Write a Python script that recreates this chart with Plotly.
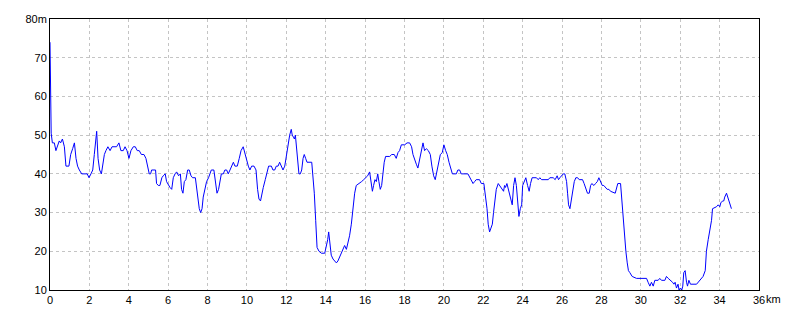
import plotly.graph_objects as go

dist_km = [
    0.00, 0.03, 0.06, 0.12, 0.22, 0.30, 0.37, 0.47, 0.54, 0.63, 0.73, 0.81, 0.96, 1.05, 1.15, 1.24,
    1.32, 1.40, 1.49, 1.61, 1.89, 1.98, 2.08, 2.17, 2.25, 2.32, 2.37, 2.44, 2.52, 2.61, 2.67, 2.76,
    2.84, 2.94, 3.05, 3.15, 3.38, 3.50, 3.60, 3.72, 3.81, 3.91, 4.01, 4.11, 4.23, 4.33, 4.43, 4.53,
    4.64, 4.77, 4.87, 4.96, 5.04, 5.11, 5.16, 5.28, 5.36, 5.41, 5.50, 5.58, 5.68, 5.75, 5.85, 5.92,
    6.01, 6.09, 6.18, 6.26, 6.35, 6.43, 6.53, 6.62, 6.68, 6.75, 6.82, 6.90, 6.99, 7.07, 7.16, 7.24,
    7.38, 7.45, 7.51, 7.58, 7.65, 7.72, 7.78, 7.87, 7.95, 8.05, 8.12, 8.19, 8.32, 8.41, 8.48, 8.56,
    8.63, 8.70, 8.80, 8.88, 8.97, 9.05, 9.14, 9.22, 9.31, 9.39, 9.51, 9.61, 9.70, 9.81, 9.90, 9.98,
    10.07, 10.15, 10.24, 10.36, 10.46, 10.54, 10.61, 10.69, 10.76, 10.83, 10.93, 11.03, 11.10, 11.17,
    11.24, 11.32, 11.41, 11.49, 11.58, 11.66, 11.75, 11.83, 11.92, 12.00, 12.08, 12.17, 12.25, 12.30,
    12.36, 12.41, 12.46, 12.51, 12.58, 12.64, 12.71, 12.78, 12.85, 12.91, 12.98, 13.05, 13.29, 13.35,
    13.42, 13.49, 13.56, 13.66, 13.78, 13.95, 14.03, 14.10, 14.15, 14.22, 14.28, 14.37, 14.45, 14.54,
    14.62, 14.71, 14.79, 14.88, 14.96, 15.05, 15.13, 15.21, 15.30, 15.38, 15.47, 15.55, 15.72, 15.82,
    15.93, 16.03, 16.13, 16.23, 16.30, 16.37, 16.43, 16.50, 16.57, 16.64, 16.70, 16.77, 16.84, 16.91,
    16.97, 17.04, 17.25, 17.35, 17.48, 17.58, 17.67, 17.75, 17.84, 18.01, 18.13, 18.26, 18.36, 18.43,
    18.51, 18.60, 18.68, 18.77, 18.85, 18.94, 19.02, 19.11, 19.21, 19.31, 19.39, 19.48, 19.56, 19.65,
    19.73, 19.82, 19.92, 20.00, 20.09, 20.17, 20.26, 20.34, 20.43, 20.63, 20.71, 20.80, 20.88, 21.22,
    21.31, 21.39, 21.48, 21.56, 21.64, 21.81, 21.90, 22.03, 22.12, 22.19, 22.25, 22.32, 22.39, 22.46,
    22.52, 22.59, 22.66, 22.76, 22.83, 22.90, 22.96, 23.03, 23.08, 23.13, 23.20, 23.27, 23.34, 23.40,
    23.47, 23.54, 23.61, 23.68, 23.74, 23.81, 23.88, 23.95, 24.00, 24.08, 24.16, 24.25, 24.33, 24.40,
    24.48, 24.70, 24.79, 24.87, 24.96, 25.30, 25.38, 25.55, 25.65, 25.75, 25.82, 25.89, 25.97, 26.06,
    26.14, 26.23, 26.28, 26.33, 26.40, 26.46, 26.53, 26.62, 26.70, 26.79, 26.87, 27.04, 27.12, 27.21,
    27.29, 27.38, 27.45, 27.51, 27.62, 27.70, 27.79, 27.87, 27.95, 28.04, 28.12, 28.21, 28.29, 28.38,
    28.46, 28.70, 28.77, 28.83, 28.97, 29.04, 29.10, 29.17, 29.24, 29.31, 29.37, 29.44, 29.56, 29.78,
    30.29, 30.37, 30.46, 30.54, 30.63, 30.71, 30.88, 30.96, 31.05, 31.22, 31.30, 31.39, 31.51, 31.61,
    31.68, 31.74, 31.81, 31.89, 31.94, 32.01, 32.08, 32.13, 32.18, 32.25, 32.32, 32.37, 32.44, 32.52,
    32.83, 32.91, 33.00, 33.08, 33.16, 33.27, 33.33, 33.42, 33.50, 33.59, 33.64, 33.84, 33.93, 34.01,
    34.06, 34.15, 34.21, 34.26, 34.35, 34.43, 34.52, 34.60,
]
elev_m = [
    74, 60, 50.5, 48, 48, 46, 47, 48.5, 48, 49, 47, 42, 42, 45, 46.5, 48,
    44, 42, 41, 40, 40, 39, 40, 41, 45, 50, 51, 44, 41, 40, 42, 45,
    46, 47, 46, 47, 47, 48, 46, 46, 47, 46, 44, 46, 47, 47, 46, 46,
    45, 45, 44, 42, 40, 40, 41, 41, 41, 37.5, 37, 37, 39, 39.5, 40, 38,
    37, 36.5, 36, 39, 40, 40.5, 39.5, 40, 36, 35, 38, 38.5, 41, 41, 39.5, 39,
    39, 36, 33, 31, 30, 31, 34, 36, 38, 39, 40, 41, 41, 38, 35, 36,
    38, 40, 40, 41, 41, 40, 41, 42, 43, 42, 42, 44, 46, 47, 45, 44,
    42, 41, 42, 42, 41, 36, 33.5, 33, 35, 36.5, 38.5, 40.5, 42, 42,
    42, 41, 41, 42, 42, 43, 42, 41, 42, 45, 48, 50, 51.5, 50,
    49.5, 49, 50, 47, 44, 40, 40, 41, 44, 45, 44, 43, 43, 40,
    35, 28, 21, 20, 19.5, 19.5, 21, 23, 25, 22, 19, 18, 17.5, 17,
    17.5, 18.5, 19.5, 20.5, 21.5, 20.5, 22, 24, 27, 31, 35, 37, 37.5, 38,
    38.5, 39, 39.5, 40.5, 38, 35.5, 37, 38.5, 38, 40, 38, 36, 37, 41,
    43, 44.5, 44.5, 45, 45, 44, 45.5, 46, 47.5, 47.5, 48, 48, 47, 45,
    43.5, 42.5, 41.5, 44, 46, 48, 46, 46.5, 46, 45, 42, 39.5, 38.5, 41,
    43, 45, 45.5, 47.5, 46, 45, 43, 41.5, 40, 40, 41, 41, 40, 40,
    39, 38.5, 37.5, 38, 38.5, 38.5, 37.5, 37.5, 34, 31, 27, 25, 26, 27,
    30, 33, 36, 37.5, 37, 36.5, 36, 35.5, 37, 36.5, 37.5, 36, 34, 33.5,
    32, 37, 39, 37, 33, 29, 31, 32, 37, 38, 39, 37, 35.5, 37.5,
    39, 39, 38.5, 39, 38.5, 38.5, 39, 39, 38.5, 39.5, 38.5, 39, 39.5, 40,
    40, 38, 35, 32, 31, 33, 36, 38, 39, 39, 38.5, 38.5, 37.5, 36,
    35, 35, 37, 37.5, 37, 37.5, 38, 39, 38, 37, 37, 36.5, 36, 36,
    35.5, 35, 36.5, 37.5, 37.5, 33, 28, 24, 20, 17, 15, 14.5, 13.5, 13,
    13, 12, 11, 12, 11, 12.5, 12.5, 13, 12.5, 12.5, 13.5, 13, 12.5, 12,
    11.5, 12, 10.5, 11.5, 10, 10.5, 10, 11, 14.5, 15, 12, 11, 12.5, 11.5,
    11.5, 12, 12.5, 13, 13.5, 15, 20, 23, 25, 28, 31, 31.5, 32, 31.5,
    32.5, 33, 33, 34, 35, 33.5, 32, 31,
]

x_tick_vals = [0, 2, 4, 6, 8, 10, 12, 14, 16, 18, 20, 22, 24, 26, 28, 30, 32, 34, 36]
x_tick_text = ["0", "2", "4", "6", "8", "10", "12", "14", "16", "18", "20", "22", "24",
               "26", "28", "30", "32", "34", "36"]
y_tick_vals = [10, 20, 30, 40, 50, 60, 70, 80]
y_tick_text = ["10", "20", "30", "40", "50", "60", "70", "80m"]

font_family = "Liberation Sans"

fig = go.Figure()
fig.add_trace(go.Scatter(
    x=dist_km, y=elev_m, mode="lines",
    line=dict(color="#0000ff", width=1),
    hoverinfo="skip", showlegend=False,
))

axis_common = dict(
    showline=True, mirror=True, linecolor="black", linewidth=1,
    showgrid=True, gridcolor="#c4c4c4", gridwidth=1, griddash="3px,3px",
    zeroline=False, ticks="", tickfont=dict(family=font_family, size=11, color="black"),
)

fig.update_xaxes(range=[0, 36], tickmode="array", tickvals=x_tick_vals,
                 ticktext=x_tick_text, **axis_common)
fig.update_yaxes(range=[10, 80], tickmode="array", tickvals=y_tick_vals,
                 ticktext=y_tick_text, **axis_common)

fig.add_annotation(x=36, y=0, xref="x", yref="paper", text="km", showarrow=False,
                   xanchor="left", yanchor="top", xshift=5, yshift=-1,
                   font=dict(family=font_family, size=11, color="black"))

fig.update_layout(
    width=800, height=320,
    margin=dict(l=50, r=41, t=19, b=30),
    paper_bgcolor="white", plot_bgcolor="white",
)

fig.write_html("out.html")
